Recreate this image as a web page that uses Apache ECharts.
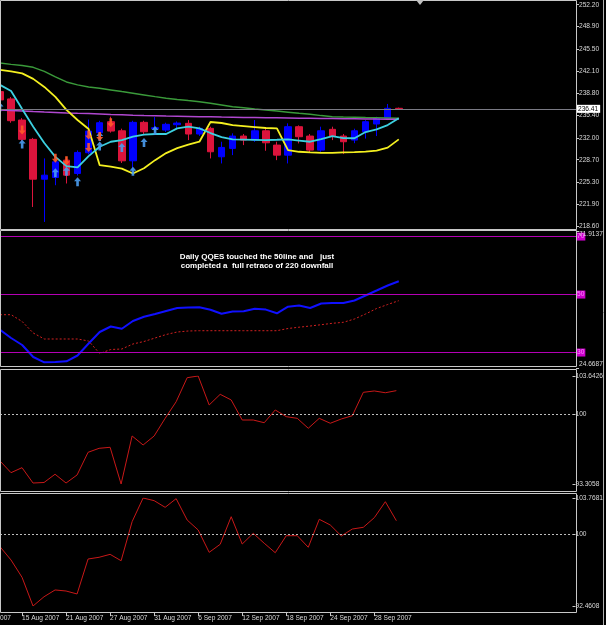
<!DOCTYPE html>
<html>
<head>
<meta charset="utf-8">
<script src="https://cdn.jsdelivr.net/npm/echarts@6/dist/echarts.min.js"></script>
<style>
html, body { margin: 0; padding: 0; background: #000; }
#chart { width: 606px; height: 625px; }
</style>
</head>
<body>
<div id="chart"></div>
<script>
// trading days shown, plus empty future slots on the right (chart shift)
const dates = [
  "13 Aug 2007", "14 Aug 2007", "15 Aug 2007", "16 Aug 2007", "17 Aug 2007",
  "20 Aug 2007", "21 Aug 2007", "22 Aug 2007", "23 Aug 2007", "24 Aug 2007",
  "27 Aug 2007", "28 Aug 2007", "29 Aug 2007", "30 Aug 2007", "31 Aug 2007",
  "3 Sep 2007", "4 Sep 2007", "5 Sep 2007", "6 Sep 2007", "7 Sep 2007",
  "10 Sep 2007", "11 Sep 2007", "12 Sep 2007", "13 Sep 2007", "14 Sep 2007",
  "17 Sep 2007", "18 Sep 2007", "19 Sep 2007", "20 Sep 2007", "21 Sep 2007",
  "24 Sep 2007", "25 Sep 2007", "26 Sep 2007", "27 Sep 2007", "28 Sep 2007",
  "1 Oct 2007", "2 Oct 2007",
  "3 Oct 2007", "4 Oct 2007", "5 Oct 2007", "8 Oct 2007", "9 Oct 2007",
  "10 Oct 2007", "11 Oct 2007", "12 Oct 2007", "15 Oct 2007", "16 Oct 2007",
  "17 Oct 2007", "18 Oct 2007", "19 Oct 2007", "22 Oct 2007", "23 Oct 2007",
  "24 Oct 2007"
];

// [open, close, low, high]
const ohlc = [
  [239.02, 237.76, 237.40, 239.60], [237.91, 234.61, 234.30, 238.20],
  [234.71, 231.78, 231.50, 235.00], [231.78, 225.74, 221.53, 232.00],
  [225.74, 226.35, 219.26, 228.89], [226.00, 228.37, 224.83, 228.89],
  [228.63, 226.35, 225.09, 229.14], [226.61, 229.80, 226.30, 230.10],
  [229.75, 233.04, 229.50, 234.78], [232.78, 234.30, 232.50, 234.60],
  [234.46, 233.04, 232.80, 235.22], [233.08, 228.53, 228.20, 233.40],
  [228.53, 234.36, 227.11, 234.60], [234.36, 232.93, 232.60, 234.60],
  [233.40, 233.55, 232.95, 235.15], [233.19, 234.06, 232.90, 234.30],
  [234.00, 234.25, 233.50, 234.50], [234.21, 232.59, 231.67, 234.71],
  [232.59, 233.45, 232.30, 233.70], [233.45, 229.90, 228.89, 233.70],
  [229.14, 230.56, 228.13, 231.42], [230.41, 232.28, 229.39, 232.69],
  [232.28, 231.67, 230.91, 232.59], [231.67, 233.08, 231.40, 234.71],
  [233.08, 231.26, 230.05, 233.45], [230.91, 229.39, 228.63, 231.42],
  [229.39, 233.70, 228.13, 234.21], [233.70, 232.18, 231.17, 233.90],
  [232.28, 230.15, 229.80, 232.59], [230.15, 233.08, 229.90, 233.70],
  [233.30, 232.28, 231.67, 233.70], [232.28, 231.42, 229.55, 232.59],
  [231.67, 233.08, 231.20, 233.40], [232.93, 234.46, 231.90, 234.70],
  [234.11, 234.97, 232.28, 235.20], [234.97, 236.49, 234.70, 237.15],
  [236.49, 236.41, 236.35, 236.60]
];

const maGreen = [243.34, 243.15, 242.97, 242.70, 242.09, 241.25, 240.49, 240.04, 239.73, 239.53,
  239.28, 239.02, 238.77, 238.52, 238.26, 238.02, 237.83, 237.66, 237.50, 237.25,
  237.00, 236.74, 236.57, 236.40, 236.24, 236.07, 235.90, 235.73, 235.57, 235.38,
  235.22, 235.17, 235.13, 235.08, 235.05, 235.02, 234.97];
const maPurple = [236.24, 236.16, 236.09, 236.00, 235.92, 235.85, 235.78, 235.73, 235.69, 235.63,
  235.55, 235.51, 235.45, 235.40, 235.36, 235.31, 235.28, 235.25, 235.22, 235.19,
  235.16, 235.14, 235.11, 235.10, 235.07, 235.05, 235.02, 234.99, 234.97, 234.94,
  234.93, 234.91, 234.90, 234.87, 234.85, 234.84, 234.82];
const maYellow = [242.32, 242.09, 241.79, 240.95, 239.73, 238.21, 236.24, 234.72, 233.35, 227.87,
  227.64, 227.34, 226.61, 227.41, 228.63, 229.70, 230.46, 230.99, 231.42, 234.41,
  234.26, 233.95, 233.80, 233.65, 233.50, 233.45, 230.15, 229.90, 229.81, 229.74,
  229.74, 229.81, 229.85, 229.93, 230.08, 230.53, 231.78];
const maCyan = [240.04, 239.12, 236.39, 233.70, 231.22, 229.13, 227.72, 227.52, 229.24, 230.66,
  231.42, 231.67, 232.18, 232.51, 232.59, 232.59, 233.45, 233.70, 233.45, 232.74,
  232.13, 231.78, 231.75, 231.71, 231.67, 231.72, 231.78, 231.60, 231.42, 231.83,
  232.28, 231.98, 231.95, 232.89, 233.30, 233.95, 234.97];

// signal arrows: [bar index, price]
const upArrows = [[0, 236.69], [2, 231.07], [5, 226.73], [6, 226.96], [7, 225.36], [9, 232.20],
  [9, 230.77], [11, 230.54], [12, 226.96], [13, 231.29], [14, 233.12]];
const downArrows = [[2, 233.20], [5, 228.91], [6, 228.53], [8, 232.43], [8, 230.54], [9, 232.20],
  [10, 234.30]];

const bidPrice = 236.41;
const priceTicks = [218.60, 221.90, 225.30, 228.70, 232.00, 235.40, 238.80, 242.10, 245.50, 248.90, 252.20];

// QQE window
const qqeFast = [37.88, 35.02, 32.60, 28.46, 26.63, 26.74, 26.98, 28.98, 33.12, 37.08,
  38.98, 38.22, 40.88, 42.33, 43.29, 44.33, 45.36, 45.53, 45.60, 44.77,
  43.36, 44.12, 44.22, 45.12, 44.81, 43.53, 45.81, 46.19, 45.36, 46.91,
  47.08, 47.08, 47.95, 49.67, 51.39, 53.12, 54.57];
const qqeSlow = [43.05, 43.05, 40.70, 36.74, 34.67, 34.67, 34.67, 34.67, 33.98, 29.67,
  31.05, 31.22, 32.95, 33.81, 35.02, 36.22, 37.08, 37.43, 37.53, 37.53,
  37.53, 37.53, 37.53, 37.53, 37.53, 37.53, 38.29, 38.74, 39.15, 39.60,
  40.08, 40.43, 41.57, 43.29, 45.19, 46.57, 47.88];
const qqeLevels = [70, 50, 30];
const qqeRange = [24.6687, 71.9137];

// two oscillators around 100
const osc1 = [95.51, 94.39, 94.87, 93.40, 93.45, 94.24, 93.40, 94.17, 96.34, 96.72,
  96.82, 93.3058, 97.90, 97.04, 97.90, 99.59, 101.18, 103.48, 103.6426, 100.87,
  101.89, 101.35, 99.43, 99.43, 99.17, 100.39, 99.75, 99.59, 98.64, 99.59,
  99.12, 99.53, 99.84, 102.08, 102.21, 102.04, 102.24];
const osc1Range = [93.3058, 103.6426];
const osc2 = [98.67, 97.28, 95.47, 92.4608, 93.43, 94.14, 94.03, 93.72, 97.38, 97.56,
  97.87, 97.20, 101.29, 103.7681, 103.49, 102.79, 103.70, 101.46, 100.42, 98.08,
  98.92, 101.81, 98.95, 100.07, 99.03, 98.04, 99.82, 99.82, 98.61, 101.54,
  100.94, 99.79, 100.52, 100.70, 101.71, 103.38, 101.39];
const osc2Range = [92.4608, 103.7681];

const labelColor = "#d8d8d8";
const frameColor = "#c8c8c8";
const fontFamily = '"Liberation Sans", Arial, sans-serif';
const labelSize = 6.6;

const upPath = "path://M4,0 L8,4 L5.5,4 L5.5,9 L2.5,9 L2.5,4 L0,4 Z";
const downPath = "path://M2.5,0 L5.5,0 L5.5,5 L8,5 L4,9 L0,5 L2.5,5 Z";

const showDate = (idx) => idx >= 2 && idx <= 34 && (idx - 2) % 4 === 0;

function xAxisFor(gridIndex, last) {
  return {
    type: "category",
    gridIndex: gridIndex,
    data: dates,
    boundaryGap: false,
    show: last,
    offset: last ? 6 : 0,
    axisLine: { show: false },
    axisTick: {
      show: last,
      interval: (idx) => showDate(idx),
      length: 4,
      lineStyle: { color: frameColor },
    },
    axisLabel: {
      show: last,
      interval: (idx) => showDate(idx),
      align: "left",
      margin: 3,
      color: labelColor,
      fontSize: labelSize,
      fontFamily: fontFamily,
    },
    splitLine: { show: false },
  };
}

function yAxisFor(gridIndex, min, max, ticks, fmt, extra) {
  return Object.assign({
    type: "value",
    gridIndex: gridIndex,
    position: "right",
    min: min,
    max: max,
    scale: true,
    axisLine: { show: false },
    axisTick: { show: true, customValues: ticks, length: 3, lineStyle: { color: frameColor } },
    axisLabel: {
      customValues: ticks,
      formatter: fmt,
      margin: 3,
      color: labelColor,
      fontSize: labelSize,
      fontFamily: fontFamily,
    },
    splitLine: { show: false },
  }, extra || {});
}

function dottedHundred() {
  return {
    symbol: "none",
    silent: true,
    animation: false,
    label: { show: false },
    lineStyle: { color: "#bdbdbd", type: [2, 2], width: 1 },
    data: [{ yAxis: 100 }],
  };
}

const myChart = echarts.init(document.getElementById("chart"));
myChart.setOption({
  backgroundColor: "#000",
  animation: false,
  textStyle: { fontFamily: fontFamily },
  grid: [
    { left: 0, right: 30, top: 0, height: 229 },
    { left: 0, right: 30, top: 231, height: 137 },
    { left: 0, right: 30, top: 376, height: 108 },
    { left: 0, right: 30, top: 498, height: 108 },
  ],
  xAxis: [xAxisFor(0, false), xAxisFor(1, false), xAxisFor(2, false), xAxisFor(3, true)],
  yAxis: [
    yAxisFor(0, 218.19, 252.91, priceTicks, (v) => v.toFixed(2)),
    yAxisFor(1, qqeRange[0], qqeRange[1], qqeRange, (v) => v.toFixed(4), {
      z: 10,
      axisLabel: {
        customValues: qqeRange,
        formatter: (v) => v.toFixed(4),
        margin: 3,
        color: labelColor,
        fontSize: labelSize,
        fontFamily: fontFamily,
        verticalAlignMinLabel: "bottom",
        verticalAlignMaxLabel: "top",
      },
    }),
    yAxisFor(2, osc1Range[0], osc1Range[1], [osc1Range[0], 100, osc1Range[1]],
      (v) => (v === 100 ? "100" : v.toFixed(4))),
    yAxisFor(3, osc2Range[0], osc2Range[1], [osc2Range[0], 100, osc2Range[1]],
      (v) => (v === 100 ? "100" : v.toFixed(4))),
  ],
  series: [
    {
      type: "candlestick",
      xAxisIndex: 0,
      yAxisIndex: 0,
      data: ohlc,
      barWidth: 7,
      clip: true,
      itemStyle: {
        color: "#0000ff",
        borderColor: "#0000ff",
        color0: "#dc143c",
        borderColor0: "#dc143c",
        borderWidth: 1,
      },
      markLine: {
        symbol: "none",
        silent: true,
        animation: false,
        data: [{ yAxis: bidPrice }],
        lineStyle: { color: "#7a7a84", width: 1, type: "solid" },
        label: {
          position: "end",
          distance: 0,
          formatter: bidPrice.toFixed(2),
          backgroundColor: "#ffffff",
          color: "#000000",
          padding: [1, 2, 0, 2],
          fontSize: labelSize,
          fontFamily: fontFamily,
        },
      },
    },
    { type: "line", xAxisIndex: 0, yAxisIndex: 0, data: maGreen, showSymbol: false, z: 3,
      lineStyle: { color: "#3a9a3a", width: 1.5 } },
    { type: "line", xAxisIndex: 0, yAxisIndex: 0, data: maPurple, showSymbol: false, z: 3,
      lineStyle: { color: "#b048d0", width: 1.5 } },
    { type: "line", xAxisIndex: 0, yAxisIndex: 0, data: maYellow, showSymbol: false, z: 3,
      lineStyle: { color: "#f4f020", width: 1.8 } },
    { type: "line", xAxisIndex: 0, yAxisIndex: 0, data: maCyan, showSymbol: false, z: 3,
      lineStyle: { color: "#3cd0e0", width: 1.8 } },
    { type: "scatter", xAxisIndex: 0, yAxisIndex: 0, data: upArrows, symbol: upPath,
      symbolSize: [7, 9], z: 4, itemStyle: { color: "#4a9cf0", opacity: 0.9 } },
    { type: "scatter", xAxisIndex: 0, yAxisIndex: 0, data: downArrows, symbol: downPath,
      symbolSize: [7, 9], z: 4, itemStyle: { color: "#ff5a28", opacity: 0.9 } },

    {
      type: "line",
      xAxisIndex: 1,
      yAxisIndex: 1,
      data: qqeFast,
      showSymbol: false,
      lineStyle: { color: "#1010ff", width: 2 },
      markLine: {
        symbol: "none",
        silent: true,
        animation: false,
        data: qqeLevels.map((v) => ({ yAxis: v })),
        lineStyle: { color: "#b400b4", width: 1, type: "solid" },
        label: {
          position: "end",
          distance: 0,
          formatter: "{c}",
          backgroundColor: "#cc00cc",
          color: "#ff8cff",
          padding: [1, 1, 0, 1],
          fontSize: labelSize,
          fontFamily: fontFamily,
        },
      },
    },
    { type: "line", xAxisIndex: 1, yAxisIndex: 1, data: qqeSlow, showSymbol: false,
      lineStyle: { color: "#d02020", width: 1, type: [2, 2] } },

    { type: "line", xAxisIndex: 2, yAxisIndex: 2, data: osc1, showSymbol: false,
      lineStyle: { color: "#c81818", width: 1 }, markLine: dottedHundred() },
    { type: "line", xAxisIndex: 3, yAxisIndex: 3, data: osc2, showSymbol: false,
      lineStyle: { color: "#c81818", width: 1 }, markLine: dottedHundred() },
  ],
  graphic: [
    { type: "rect", silent: true, z: 20, shape: { x: 0.5, y: 0.5, width: 576, height: 229 },
      style: { fill: "none", stroke: frameColor, lineWidth: 1 } },
    { type: "rect", silent: true, z: 20, shape: { x: 0.5, y: 230.5, width: 576, height: 136 },
      style: { fill: "none", stroke: frameColor, lineWidth: 1 } },
    { type: "rect", silent: true, z: 20, shape: { x: 0.5, y: 369.5, width: 576, height: 122 },
      style: { fill: "none", stroke: frameColor, lineWidth: 1 } },
    { type: "rect", silent: true, z: 20, shape: { x: 0.5, y: 493.5, width: 576, height: 119 },
      style: { fill: "none", stroke: frameColor, lineWidth: 1 } },
    { type: "line", silent: true, z: 20, shape: { x1: 603.5, y1: 0, x2: 603.5, y2: 625 },
      style: { stroke: "#b0b0b0", lineWidth: 1 } },
    { type: "polygon", silent: true, z: 20, shape: { points: [[416, 0], [424, 0], [420, 5]] },
      style: { fill: "#c0c0c0" } },
    { type: "text", silent: true, z: 20, x: 257, y: 252.5,
      style: {
        text: "Daily QQES touched the 50line and   just\ncompleted a  full retraco of 220 downfall",
        align: "center",
        verticalAlign: "top",
        fontSize: 8,
        fontWeight: "bold",
        fontFamily: fontFamily,
        lineHeight: 9,
        fill: "#ffffff",
      } },
    { type: "text", silent: true, z: 20, x: 0, y: 615,
      style: { text: "007", fontSize: labelSize, fontFamily: fontFamily, fill: labelColor, verticalAlign: "top" } },
  ],
});
</script>
</body>
</html>
